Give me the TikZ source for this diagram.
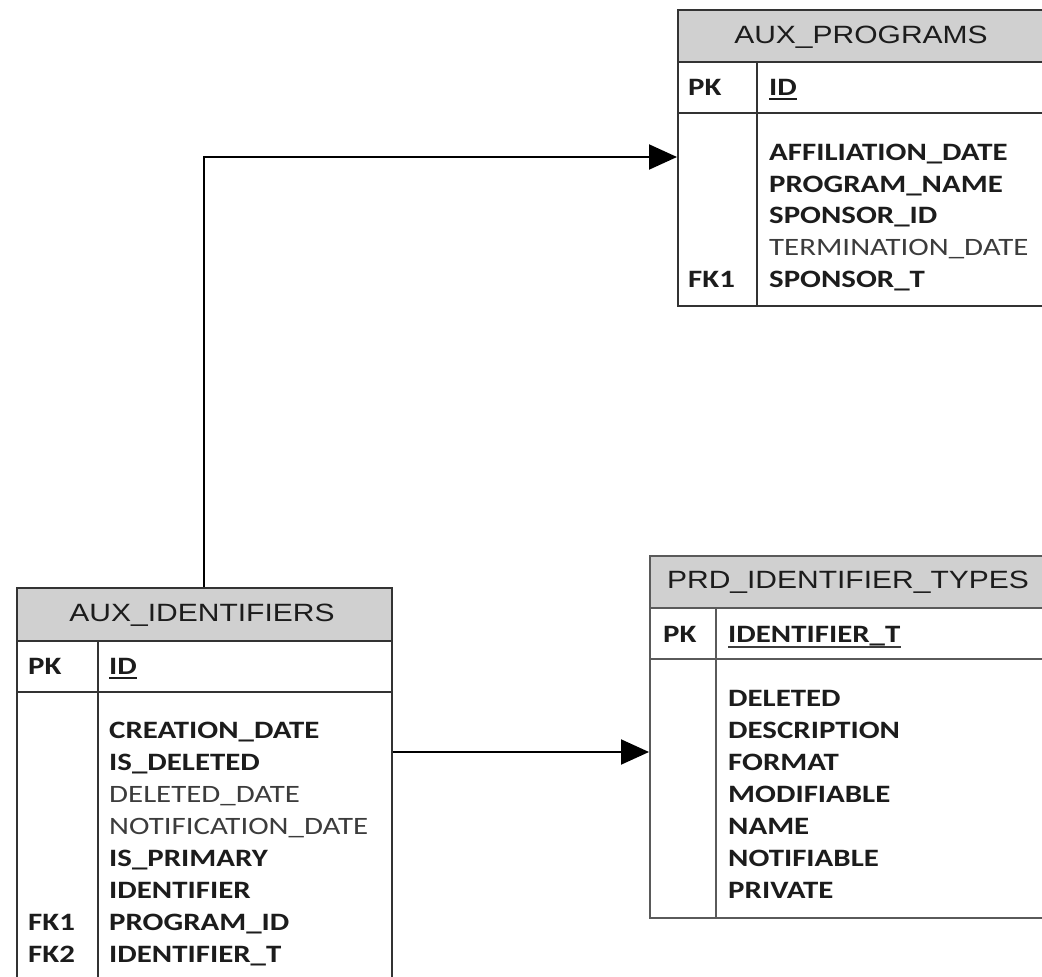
\documentclass[tikz,border=0pt]{standalone}
\usepackage{fontspec}
\setmainfont{Carlito}
\newfontfamily\fieldfont[FakeStretch=1.235]{Carlito}
\newfontfamily\headfont[FakeStretch=1.2]{Liberation Sans}
\usetikzlibrary{arrows.meta}
\definecolor{ink}{HTML}{1C1C1C}
\definecolor{softink}{HTML}{3C3C3C}
\definecolor{headgray}{HTML}{D0D0D0}
\definecolor{framegray}{HTML}{333333}
\definecolor{framelight}{HTML}{5A5A5A}

\begin{document}
\begin{tikzpicture}[x=1pt,y=-1pt,
  tablebox/.style={draw=framegray, line width=2pt, anchor=north west, inner sep=0pt},
  headband/.style={fill=headgray, anchor=north west, inner sep=0pt},
  rule/.style={draw=framegray, line width=2pt},
  title/.style={anchor=base, inner sep=0pt, text=ink, font=\headfont\fontsize{25}{30}\selectfont},
  field/.style={anchor=base west, inner sep=0pt, text=ink, font=\fieldfont\fontsize{25}{30}\selectfont\bfseries},
  plainfield/.style={anchor=base west, inner sep=0pt, text=softink, font=\fieldfont\fontsize{25}{30}\selectfont},
  keyline/.style={draw=ink, line width=1.6pt},
  link/.style={draw=black, line width=2pt, -{Triangle[length=28pt,width=25pt]}}
]
\useasboundingbox (0,0) rectangle (1042,977);
\clip (0,0) rectangle (1042,977);

% ---------- AUX_PROGRAMS ----------
\node[headband, minimum width=369pt, minimum height=53pt] (programsHead) at (677,9) {};
\node[tablebox, minimum width=369pt, minimum height=296pt] (programs) at (677,9) {};
\draw[rule] (677,62) -- (1046,62);
\draw[rule] (677,113) -- (1046,113);
\draw[rule] (757,62) -- (757,305);
\node[title] (programsTitle) at (861,43) {AUX\_PROGRAMS};
\node[field] (programsPK) at (688,95) {PK};
\node[field] (programsID) at (769,95) {ID};
\draw[keyline] ([yshift=-4pt]programsID.base west) -- ([yshift=-4pt]programsID.base east);
\node[field] (pA) at (769,160) {AFFILIATION\_DATE};
\node[field] (pB) at (769,192) {PROGRAM\_NAME};
\node[field] (pC) at (769,223) {SPONSOR\_ID};
\node[plainfield] (pD) at (769,255) {TERMINATION\_DATE};
\node[field] (pE) at (769,287) {SPONSOR\_T};
\node[field] (pFK) at (688,287) {FK1};

% ---------- AUX_IDENTIFIERS ----------
\node[headband, minimum width=375pt, minimum height=54pt] (identifiersHead) at (16,587) {};
\node[tablebox, minimum width=375pt, minimum height=400pt] (identifiers) at (16,587) {};
\draw[rule] (16,641) -- (391,641);
\draw[rule] (16,692) -- (391,692);
\draw[rule] (98,641) -- (98,990);
\node[title] (identifiersTitle) at (202,621) {AUX\_IDENTIFIERS};
\node[field] (identifiersPK) at (28,674) {PK};
\node[field] (identifiersID) at (109,674) {ID};
\draw[keyline] ([yshift=-4pt]identifiersID.base west) -- ([yshift=-4pt]identifiersID.base east);
\node[field] (iA) at (109,738) {CREATION\_DATE};
\node[field] (iB) at (109,770) {IS\_DELETED};
\node[plainfield] (iC) at (109,802) {DELETED\_DATE};
\node[plainfield] (iD) at (109,834) {NOTIFICATION\_DATE};
\node[field] (iE) at (109,866) {IS\_PRIMARY};
\node[field] (iF) at (109,898) {IDENTIFIER};
\node[field] (iG) at (109,930) {PROGRAM\_ID};
\node[field] (iH) at (109,962) {IDENTIFIER\_T};
\node[field] (iFK1) at (28,930) {FK1};
\node[field] (iFK2) at (28,962) {FK2};

% ---------- PRD_IDENTIFIER_TYPES ----------
\node[headband, minimum width=398pt, minimum height=53pt] (typesHead) at (649,555) {};
\node[tablebox, draw=framelight, minimum width=398pt, minimum height=362pt] (types) at (649,555) {};
\draw[rule, draw=framelight] (649,608) -- (1047,608);
\draw[rule, draw=framelight] (649,659) -- (1047,659);
\draw[rule, draw=framelight] (716,608) -- (716,917);
\node[title] (typesTitle) at (848,588) {PRD\_IDENTIFIER\_TYPES};
\node[field] (typesPK) at (663,642) {PK};
\node[field] (typesID) at (728,642) {IDENTIFIER\_T};
\draw[keyline, draw=softink] ([yshift=-5pt]typesID.base west) -- ([yshift=-5pt]typesID.base east);
\node[field] (tA) at (728,706) {DELETED};
\node[field] (tB) at (728,738) {DESCRIPTION};
\node[field] (tC) at (728,770) {FORMAT};
\node[field] (tD) at (728,802) {MODIFIABLE};
\node[field] (tE) at (728,834) {NAME};
\node[field] (tF) at (728,866) {NOTIFIABLE};
\node[field] (tG) at (728,898) {PRIVATE};

% ---------- relationships ----------
\coordinate (riserX) at (204,0);
\coordinate (programsEntryY) at (0,157);
\coordinate (typesEntryY) at (0,752);
\draw[link] (identifiers.north -| riserX) |- (programs.west |- programsEntryY);
\draw[link] (identifiers.east |- typesEntryY) -- (types.west |- typesEntryY);
\end{tikzpicture}
\end{document}
